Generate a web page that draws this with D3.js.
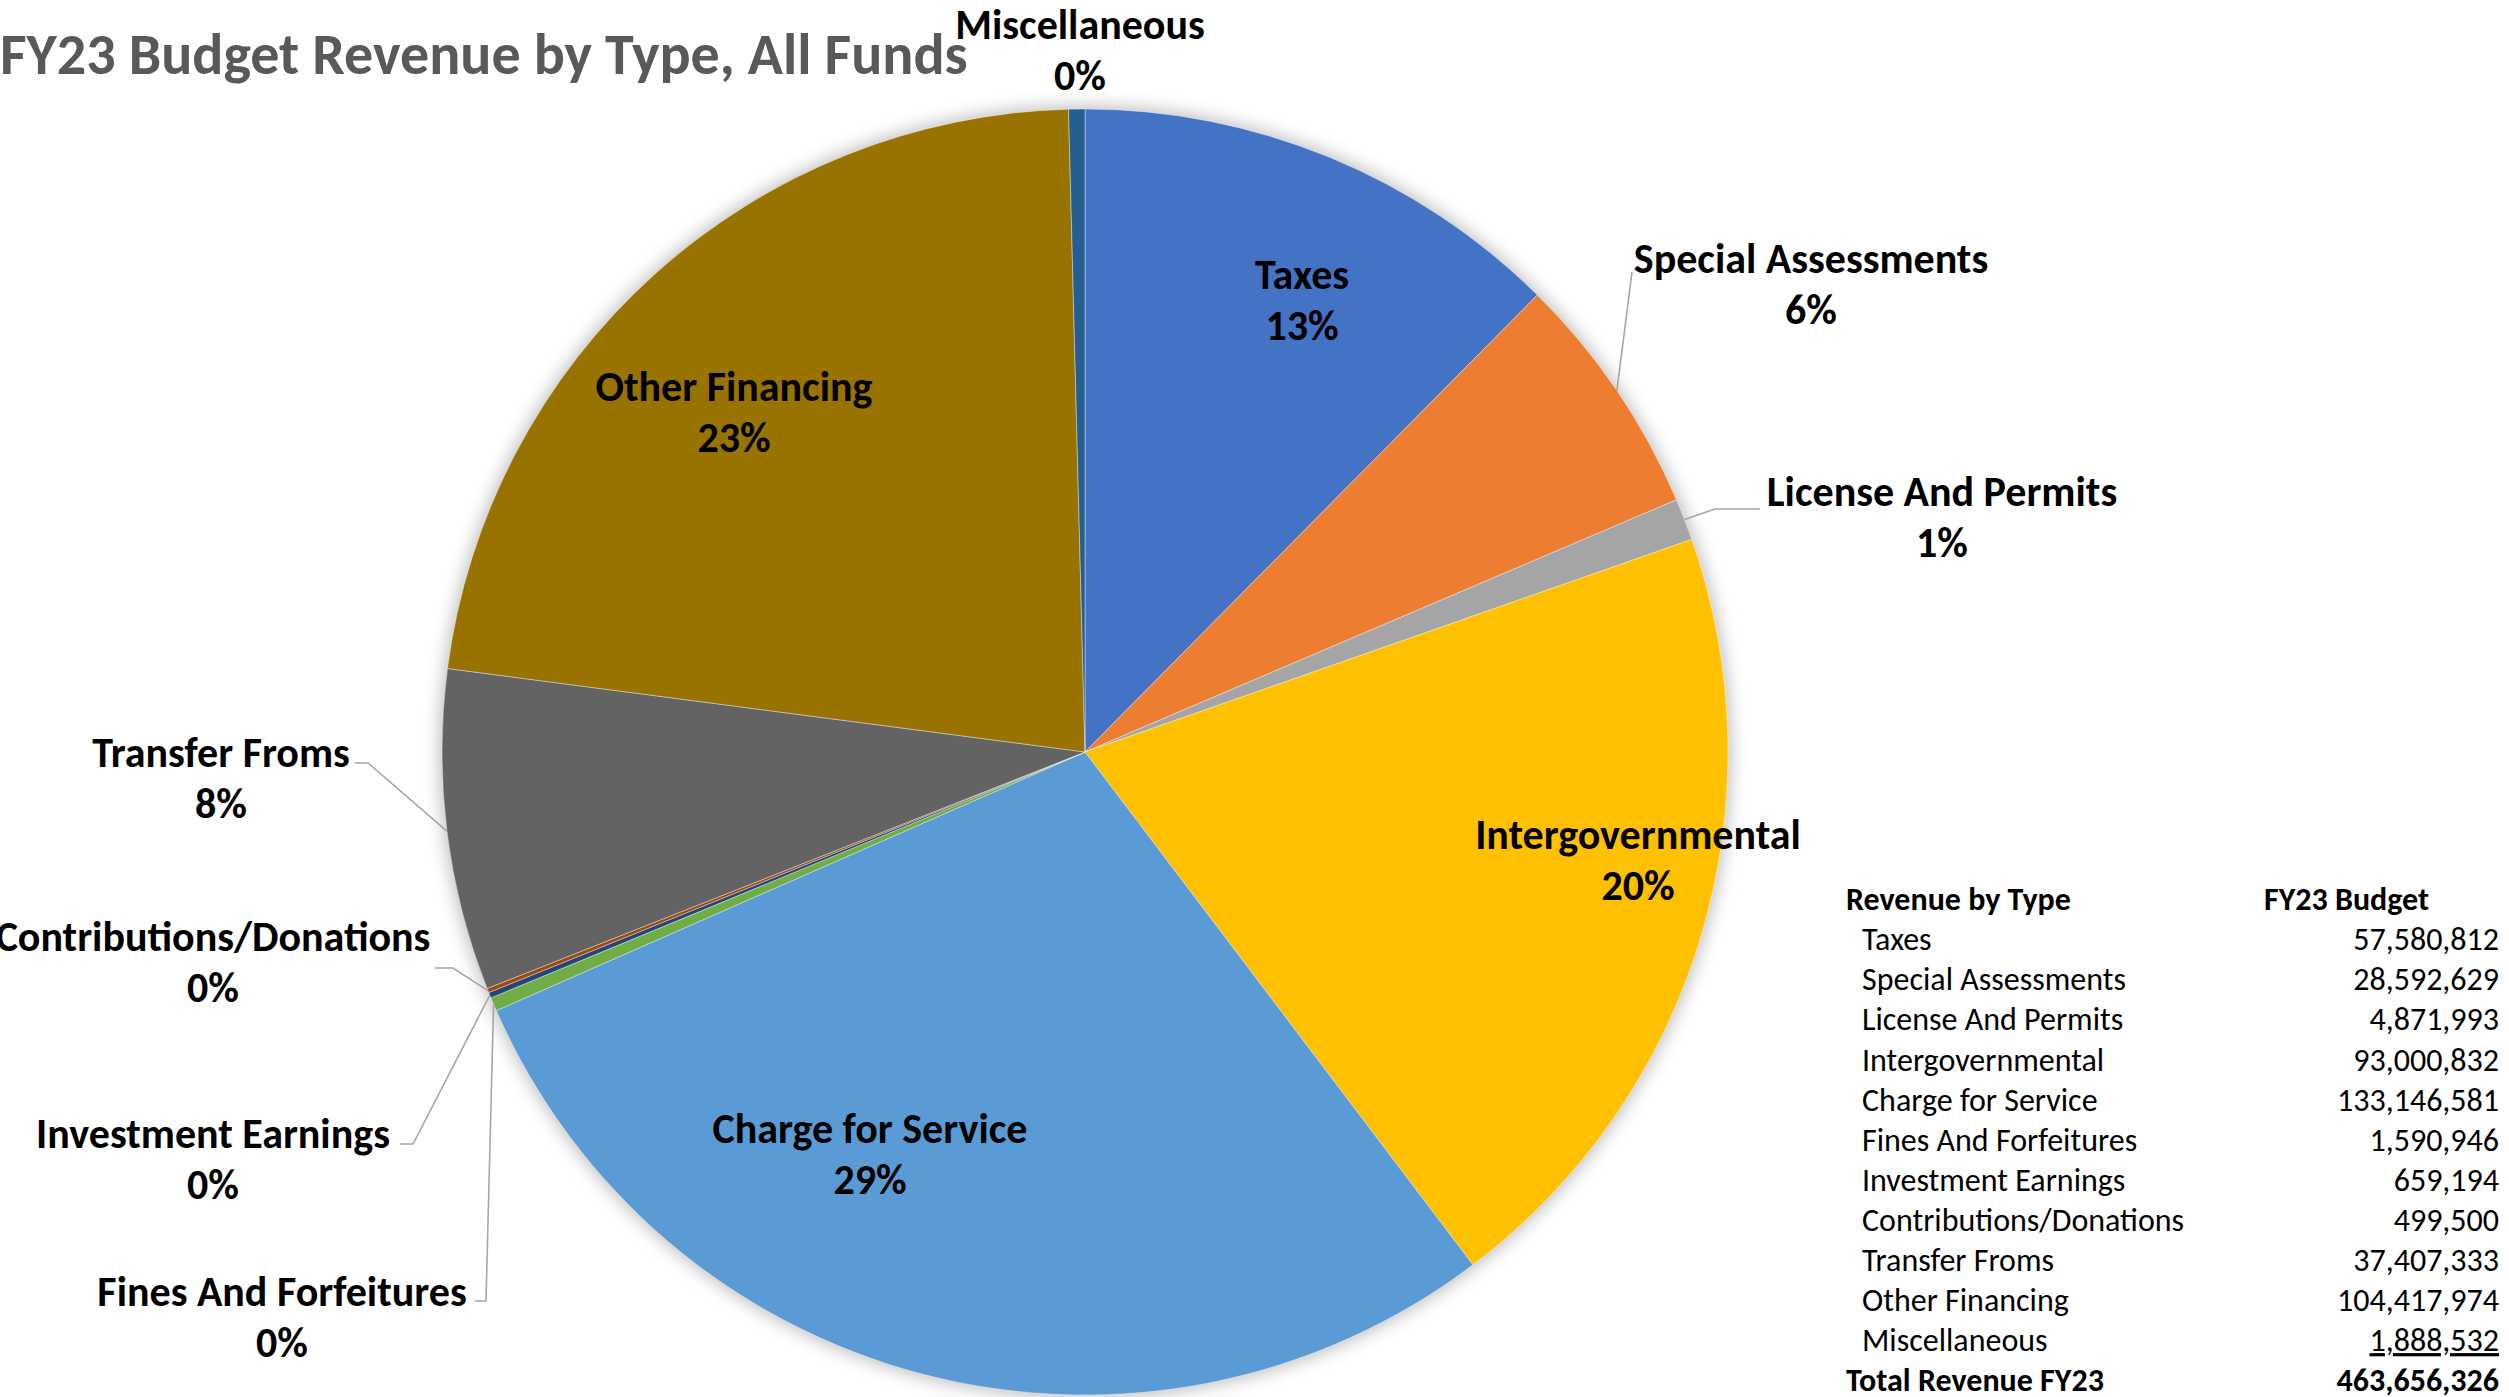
<!DOCTYPE html>
<html>
<head>
<meta charset="utf-8">
<script src="https://cdn.jsdelivr.net/npm/d3@7"></script>
<style>
  body { margin: 0; background: #fff; }
  svg { display: block; }
  text { font-family: Carlito, Lato, sans-serif; }
</style>
</head>
<body>
<script>
// revenue types, clockwise from 12 o'clock
const categories = ['Taxes', 'Special Assessments', 'License And Permits', 'Intergovernmental',
    'Charge for Service', 'Fines And Forfeitures', 'Investment Earnings', 'Contributions/Donations',
    'Transfer Froms', 'Other Financing', 'Miscellaneous'];
const budget = [57580812, 28592629, 4871993, 93000832, 133146581, 1590946, 659194, 499500,
    37407333, 104417974, 1888532];
// percent labels as shown on the chart
const pctLabels = ['13%', '6%', '1%', '20%', '29%', '0%', '0%', '0%', '8%', '23%', '0%'];
const totalLabel = 'Total Revenue FY23';

const colors = ['#4472C4', '#ED7D31', '#A5A5A5', '#FFC000', '#5B9BD5', '#70AD47',
    '#264478', '#9E480E', '#636363', '#997300', '#255E91'];

// label placement (centre of first line), optional leader line end points
const labelLayout = [
    { x: 1302, y: 274 },
    { x: 1811, y: 258, line: [[1632, 272]] },
    { x: 1942, y: 491, line: [[1715, 509], [1760, 509]] },
    { x: 1638, y: 834 },
    { x: 870, y: 1128 },
    { x: 282, y: 1291, line: [[486, 1301], [475, 1301]] },
    { x: 213, y: 1133, line: [[413, 1144], [400, 1144]] },
    { x: 213, y: 936, line: [[453, 968], [435, 968]] },
    { x: 221, y: 752, line: [[368, 763], [355, 763]] },
    { x: 734, y: 386 },
    { x: 1080, y: 24 }
];

const width = 2509;
const height = 1397;
const cx = 1085;
const cy = 752;
const radius = 643;

const svg = d3.select('body')
    .append('svg')
    .attr('width', width)
    .attr('height', height);

const defs = svg.append('defs');
defs.append('filter')
    .attr('id', 'shadow')
    .attr('x', '-10%').attr('y', '-10%')
    .attr('width', '120%').attr('height', '120%')
    .append('feGaussianBlur')
    .attr('stdDeviation', 9);

svg.append('text')
    .attr('x', 0)
    .attr('y', 74)
    .attr('font-size', 58)
    .attr('font-weight', 'bold')
    .attr('fill', '#595959')
    .text('FY23 Budget Revenue by Type, All Funds');

const data = categories.map((c, i) => ({ name: c, value: budget[i], pct: pctLabels[i], color: colors[i], i: i }));

const pie = d3.pie()
    .sort(null)
    .value((d) => d.value);

const arc = d3.arc()
    .innerRadius(0)
    .outerRadius(radius);

const arcs = pie(data);

const g = svg.append('g')
    .attr('transform', 'translate(' + cx + ',' + cy + ')');

g.append('circle')
    .attr('r', radius + 2)
    .attr('fill', '#000')
    .attr('opacity', 0.28)
    .attr('filter', 'url(#shadow)');

g.selectAll('path.slice')
    .data(arcs)
    .enter()
    .append('path')
    .attr('class', 'slice')
    .attr('d', arc)
    .attr('fill', (d) => d.data.color)
    .attr('stroke', '#fff')
    .attr('stroke-width', 0.4);

// leader lines
arcs.forEach((d) => {
    const lay = labelLayout[d.data.i];
    if (!lay.line) return;
    const mid = (d.startAngle + d.endAngle) / 2;
    const pts = [[cx + radius * Math.sin(mid), cy - radius * Math.cos(mid)]].concat(lay.line);
    svg.append('path')
        .attr('d', d3.line()(pts))
        .attr('fill', 'none')
        .attr('stroke', '#a6a6a6')
        .attr('stroke-width', 1.6);
});

const labels = svg.selectAll('g.label')
    .data(arcs)
    .enter()
    .append('g')
    .attr('class', 'label')
    .attr('transform', (d) => 'translate(' + labelLayout[d.data.i].x + ',' + labelLayout[d.data.i].y + ')');

labels.append('text')
    .attr('text-anchor', 'middle')
    .attr('dy', '0.35em')
    .attr('font-size', 42)
    .attr('font-weight', 'bold')
    .attr('fill', '#000')
    .text((d) => d.data.name);

labels.append('text')
    .attr('text-anchor', 'middle')
    .attr('y', 51)
    .attr('dy', '0.35em')
    .attr('font-size', 42)
    .attr('font-weight', 'bold')
    .attr('fill', '#000')
    .text((d) => d.data.pct);

// table
const rowY = d3.scalePoint()
    .domain(d3.range(categories.length + 2))
    .range([899, 1380]);

const fmt = d3.format(',');
const table = svg.append('g').attr('font-size', 32).attr('fill', '#000');

table.append('text')
    .attr('x', 1846).attr('y', rowY(0)).attr('dy', '0.35em')
    .attr('font-weight', 'bold')
    .text('Revenue by Type');
table.append('text')
    .attr('x', 2264).attr('y', rowY(0)).attr('dy', '0.35em')
    .attr('font-weight', 'bold')
    .text('FY23 Budget');

categories.forEach((c, i) => {
    table.append('text')
        .attr('x', 1862).attr('y', rowY(i + 1)).attr('dy', '0.35em')
        .text(c);
    table.append('text')
        .attr('x', 2499).attr('y', rowY(i + 1)).attr('dy', '0.35em')
        .attr('text-anchor', 'end')
        .style('text-decoration', i === categories.length - 1 ? 'underline' : 'none')
        .text(fmt(budget[i]));
});

const totalRow = categories.length + 1;
table.append('text')
    .attr('x', 1846).attr('y', rowY(totalRow)).attr('dy', '0.35em')
    .attr('font-weight', 'bold')
    .text(totalLabel);
table.append('text')
    .attr('x', 2499).attr('y', rowY(totalRow)).attr('dy', '0.35em')
    .attr('text-anchor', 'end')
    .attr('font-weight', 'bold')
    .text(fmt(d3.sum(budget)));
</script>
</body>
</html>
